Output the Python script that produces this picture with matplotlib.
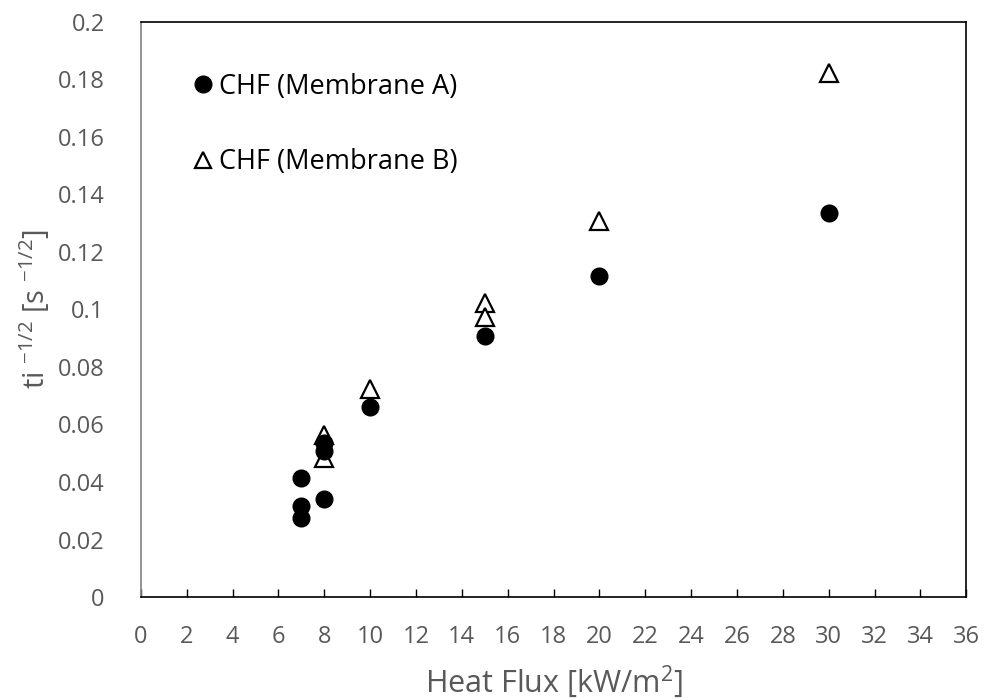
import matplotlib.pyplot as plt

# heat flux [kW/m2] vs ti^-1/2 [s^-1/2]
flux_a = [7, 7, 7, 8, 8, 8, 10, 15, 20, 30]
ti_a = [0.0414, 0.0317, 0.0275, 0.0341, 0.0536, 0.0508, 0.0661, 0.0908, 0.1117, 0.1335]

flux_b = [8, 8, 10, 15, 15, 20, 30]
ti_b = [0.0562, 0.0482, 0.0722, 0.1023, 0.0972, 0.1308, 0.1820]

xticks = list(range(0, 37, 2))
yticks = [0, 0.02, 0.04, 0.06, 0.08, 0.1, 0.12, 0.14, 0.16, 0.18, 0.2]
ytick_labels = ['0', '0.02', '0.04', '0.06', '0.08', '0.1', '0.12', '0.14', '0.16', '0.18', '0.2']

plt.rcParams['font.family'] = ['Open Sans', 'DejaVu Sans']
grey = '#595959'

fig = plt.figure(figsize=(9.85, 7), dpi=100)
ax = fig.add_axes([0.143, 0.147, 0.838, 0.822])

# triangles first so the filled circles sit on top
ax.plot(flux_b, ti_b, linestyle='None', marker='^', markersize=13,
        markerfacecolor='white', markeredgecolor='black', markeredgewidth=1.6,
        label='CHF (Membrane B)', zorder=2)
ax.plot(flux_a, ti_a, linestyle='None', marker='o', markersize=12,
        color='black', label='CHF (Membrane A)', zorder=3)

ax.set_xlim(0, 36)
ax.set_ylim(0, 0.2)
ax.set_xticks(xticks)
ax.set_yticks(yticks)
ax.set_yticklabels(ytick_labels)

ax.tick_params(axis='x', direction='in', length=6, width=1, pad=20,
               labelsize=17, labelcolor=grey)
ax.tick_params(axis='y', length=0, pad=26, labelsize=17, labelcolor=grey)

for side in ['top', 'right', 'bottom']:
    ax.spines[side].set_color('black')
    ax.spines[side].set_linewidth(1.2)
ax.spines['left'].set_color('#808080')
ax.spines['left'].set_linewidth(1.2)

ax.set_xlabel(r'Heat Flux [kW/m$^{\mathregular{2}}$]', fontsize=22, color=grey, labelpad=10)
ax.set_ylabel(r'ti $^{\mathregular{-1/2}}$ [s $^{\mathregular{-1/2}}$]', fontsize=21,
              color=grey, labelpad=4)

handles, labels = ax.get_legend_handles_labels()
leg = ax.legend(handles[::-1], labels[::-1], loc='upper left',
                bbox_to_anchor=(0.052, 0.93), frameon=False,
                fontsize=19.5, handlelength=0.6, handletextpad=0.3,
                labelspacing=1.75, borderaxespad=0)
for h in leg.legend_handles:
    h.set_markersize(12)

fig.savefig('out.png', dpi=100)
